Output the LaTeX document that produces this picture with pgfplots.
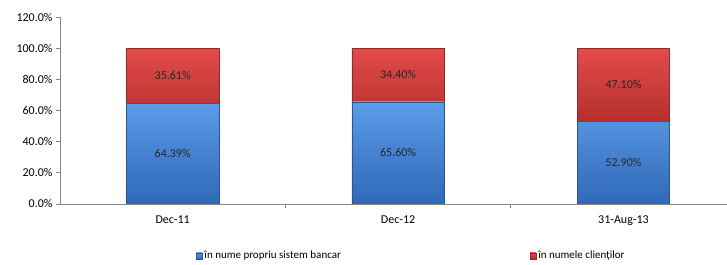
\documentclass[border=0pt]{standalone}
\usepackage{fontspec}
\setmainfont{Carlito}
\usepackage{pgfplots}
\pgfplotsset{compat=1.18}
\definecolor{axisgray}{HTML}{868686}
\definecolor{blueTop}{HTML}{5C9CE8}
\definecolor{blueBot}{HTML}{2F68B8}
\definecolor{blueEdge}{HTML}{2A5590}
\definecolor{redTop}{HTML}{E24C4A}
\definecolor{redBot}{HTML}{B52F2D}
\definecolor{redEdge}{HTML}{8E2A28}
\begin{document}
\begin{tikzpicture}
\begin{axis}[
  scale only axis, width=667pt, height=187pt,
  xmin=-0.5, xmax=2.458, ymin=0, ymax=120,
  ybar stacked, bar width=0.41,
  axis x line*=bottom, axis y line*=left,
  axis line style={axisgray, line width=0.6pt},
  ytick={0,20,...,120},
  yticklabel={\pgfmathprintnumber[fixed,fixed zerofill,precision=1,assume math mode=true]{\tick}\%},
  xtick={0,1,2}, xticklabels={Dec-11,Dec-12,31-Aug-13},
  minor xtick={0.5,1.5},
  tick align=outside, major tick length=4pt, minor tick length=4pt,
  tick style={axisgray, line width=0.6pt},
  major x tick style={draw=none},
  ticklabel style={font=\fontsize{12}{14}\selectfont, text=black},
  xticklabel style={yshift=-4pt},
  legend columns=2,
  legend cell align=left,
  legend style={at={(0.527,-0.278)}, anchor=center, draw=none,
    font=\fontsize{11}{13}\selectfont,
    /tikz/every even column/.append style={column sep=187pt}},
  legend image code/.code={\path[#1] (0pt,-3pt) rectangle (6pt,3pt);},
]
\addplot[draw=blueEdge, line width=0.4pt, top color=blueTop, bottom color=blueBot]
  coordinates {(0,64.39) (1,65.60) (2,52.90)};
\addlegendentry{în nume propriu sistem bancar}
\addplot[draw=redEdge, line width=0.4pt, top color=redTop, bottom color=redBot]
  coordinates {(0,35.61) (1,34.40) (2,47.10)};
\addlegendentry{în numele clienţilor}
\end{axis}
\begin{axis}[
  scale only axis, width=667pt, height=187pt,
  xmin=-0.5, xmax=2.458, ymin=0, ymax=120,
  hide axis,
]
\addplot[only marks, mark=*, mark size=0pt,
  mark options={draw=none, fill=none},
  point meta=\thisrow{v},
  nodes near coords={\pgfmathprintnumber[fixed,fixed zerofill,precision=2,assume math mode=true]{\pgfplotspointmeta}\%},
  every node near coord/.append style={anchor=center, font=\fontsize{12}{14}\selectfont, text=black!85}]
  table {
x y v
0 32.195 64.39
1 32.80 65.60
2 26.45 52.90
0 82.195 35.61
1 82.80 34.40
2 76.45 47.10
};
\end{axis}
\path[use as bounding box] (-60pt,-58pt) rectangle (667pt,204pt);
\end{tikzpicture}
\end{document}
